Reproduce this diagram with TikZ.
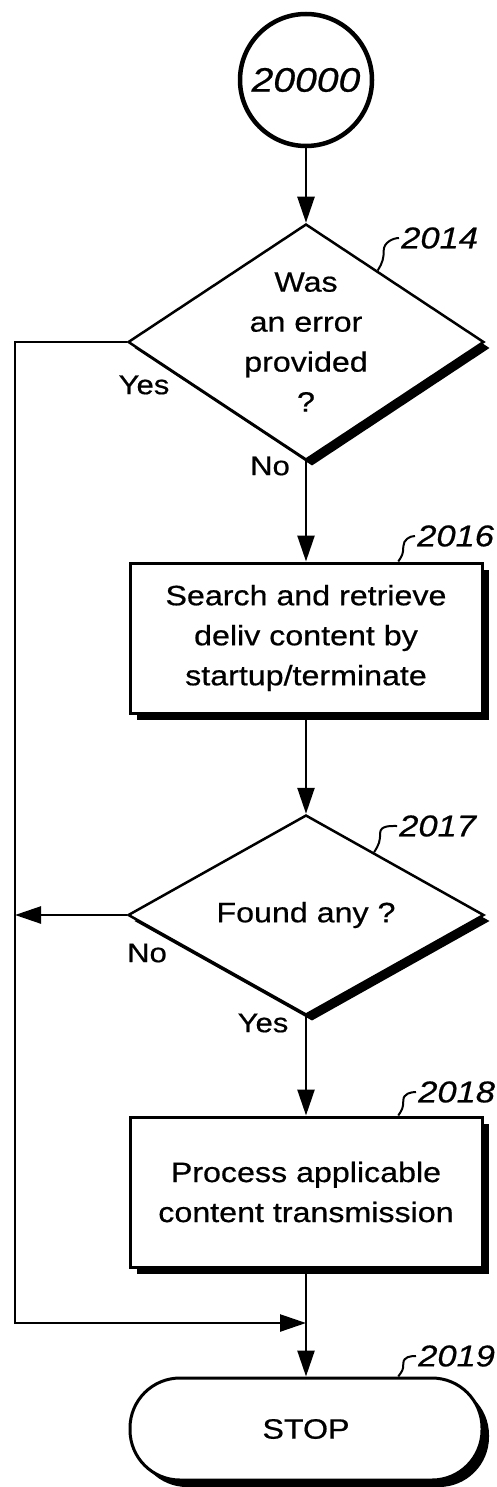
\documentclass[tikz,border=0pt]{standalone}
\usepackage{fontspec}
\setmainfont{Liberation Sans}
\newfontfamily\wf[FakeStretch=1.15,FakeBold=0.6]{Liberation Sans}
\usetikzlibrary{arrows.meta,shapes.geometric,shadows,calc}
\begin{document}
\begin{tikzpicture}[x=1pt,y=-1pt,
 line width=2.5pt,
 arr/.style={-{Triangle[length=26pt,width=17pt]}},
 txt/.style={font=\wf\fontsize{28}{40}\selectfont, align=center},
 shad/.style={drop shadow={shadow xshift=7pt,shadow yshift=-7pt,fill=black,opacity=1}},
 dshad/.style={drop shadow={shadow xshift=6pt,shadow yshift=-6pt,fill=black,opacity=1}},
 procbox/.style={txt, draw, fill=white, line width=3pt, minimum width=352pt, minimum height=150pt, shad},
 decis/.style={txt, draw, fill=white, shape=diamond, inner sep=0pt, minimum width=356pt, line width=2.5pt, dshad},
 stopbox/.style={txt, draw, fill=white, line width=3pt, rounded corners=50pt, minimum width=352pt, minimum height=102pt, shad},
 ref/.style={font=\wf\itshape\fontsize{30}{36}\selectfont, anchor=west, inner sep=1pt},
 yn/.style={font=\wf\fontsize{27}{30}\selectfont, inner sep=0pt},
 squig/.style={line width=2pt},
]
\useasboundingbox (0,0) rectangle (497,1487);

\node[circle, draw, line width=4.5pt, minimum size=132pt, inner sep=0pt,
      font=\wf\itshape\fontsize{34}{40}\selectfont] (st) at (306,80) {20000};

\node[decis, aspect=1.5, minimum height=236pt] (d1) at (306,342) {Was\\an error\\provided\\?};
\node[procbox] (b1) at (306,638) {Search and retrieve\\deliv content by\\startup/terminate};
\node[decis, aspect=1.78, minimum height=200pt] (d2) at (306,915) {Found any ?};
\node[procbox] (b2) at (306,1192) {Process applicable\\content transmission};
\node[stopbox] (sp) at (306,1429) {STOP};

\coordinate (lb) at (15,1323);
\coordinate (m) at (306,1323);

\draw[arr] (st) -- (d1);
\draw[arr] (d1) -- (b1);
\draw[arr] (b1) -- (d2);
\draw[arr] (d2) -- (b2);
\draw[arr] (b2) -- (sp);
\draw[arr] (d1.west) -| (lb) -- (m);
\draw[arr] (d2.west) -- (d2.west -| lb);

\node[yn] (y1) at (144,385) {Yes};
\node[yn] (n1) at (270,466) {No};
\node[yn] (n2) at (147,953) {No};
\node[yn] (y2) at (263,1023) {Yes};

\node[ref] (r2014) at (399,238) {2014};
\node[ref] (r2016) at (415,536) {2016};
\node[ref] (r2017) at (397,826) {2017};
\node[ref] (r2018) at (416,1092) {2018};
\node[ref] (r2019) at (416,1356) {2019};

\draw[squig] ($(d1.north)!0.4!(d1.east)$) .. controls +(5,-8) and +(0,8) .. ++(6,-20) .. controls +(0,-8) and +(-6,0) .. (r2014.west);
\draw[squig] ($(b1.north west)!0.76!(b1.north east)$) .. controls +(4,-6) and +(0,7) .. ++(5,-15) .. controls +(0,-7) and +(-5,0) .. (r2016.west);
\draw[squig] ($(d2.north)!0.38!(d2.east)$) .. controls +(5,-8) and +(0,8) .. ++(6,-19) .. controls +(0,-8) and +(-6,0) .. (r2017.west);
\draw[squig] ($(b2.north west)!0.76!(b2.north east)$) .. controls +(4,-6) and +(0,7) .. ++(5,-15) .. controls +(0,-7) and +(-5,0) .. (r2018.west);
\draw[squig] ($(sp.north west)!0.76!(sp.north east)$) .. controls +(4,-6) and +(0,7) .. ++(5,-13) .. controls +(0,-7) and +(-5,0) .. (r2019.west);
\end{tikzpicture}
\end{document}
